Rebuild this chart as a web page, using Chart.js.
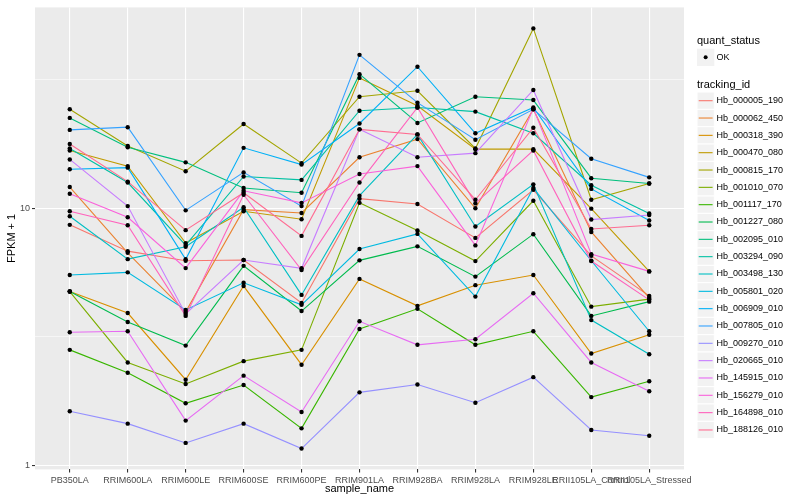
<!DOCTYPE html>
<html>
<head>
<meta charset="utf-8">
<script src="https://cdn.jsdelivr.net/npm/chart.js@4.4.1/dist/chart.umd.min.js"></script>
<style>
  html, body { margin: 0; padding: 0; background: #ffffff; }
  canvas { display: block; }
</style>
</head>
<body>
<canvas id="fpkm-chart" width="800" height="500"></canvas>
<script>
const samples = ['PB350LA', 'RRIM600LA', 'RRIM600LE', 'RRIM600SE', 'RRIM600PE', 'RRIM901LA',
                 'RRIM928BA', 'RRIM928LA', 'RRIM928LE', 'RRII105LA_Control', 'RRII105LA_Stressed'];

const trackingIds = ['Hb_000005_190', 'Hb_000062_450', 'Hb_000318_390', 'Hb_000470_080', 'Hb_000815_170',
                     'Hb_001010_070', 'Hb_001117_170', 'Hb_001227_080', 'Hb_002095_010', 'Hb_003294_090',
                     'Hb_003498_130', 'Hb_005801_020', 'Hb_006909_010', 'Hb_007805_010', 'Hb_009270_010',
                     'Hb_020665_010', 'Hb_145915_010', 'Hb_156279_010', 'Hb_164898_010', 'Hb_188126_010'];

const statusLabels = ['OK'];

// FPKM + 1, one value per sample
const fpkm_000005_190 = [8.62, 6.81, 6.25, 6.29, 4.28, 10.9, 10.4, 7.67, 11.8, 6.53, 4.56];
const fpkm_000062_450 = [12.1, 6.71, 3.95, 9.88, 9.59, 15.8, 18.6, 10.0, 24.3, 8.09, 4.48];
const fpkm_000318_390 = [4.74, 3.91, 2.15, 4.98, 2.46, 5.31, 4.17, 5.02, 5.50, 2.72, 3.22];
const fpkm_000470_080 = [16.8, 14.6, 7.32, 9.74, 9.07, 32.2, 25.1, 17.0, 17.0, 9.97, 5.68];
const fpkm_000815_170 = [24.3, 17.5, 13.95, 21.3, 15.0, 27.2, 28.7, 17.1, 50.2, 10.8, 12.5];
const fpkm_001010_070 = [4.74, 2.51, 2.07, 2.54, 2.81, 10.5, 8.20, 6.23, 10.7, 4.14, 4.43];
const fpkm_001117_170 = [2.81, 2.29, 1.74, 2.05, 1.39, 3.39, 4.06, 2.94, 3.32, 1.84, 2.12];
const fpkm_001227_080 = [4.74, 3.61, 2.92, 5.97, 3.98, 6.27, 7.11, 5.42, 7.93, 3.81, 4.33];
const fpkm_002095_010 = [22.5, 17.3, 15.1, 12.0, 11.5, 33.3, 21.5, 27.2, 26.4, 13.1, 12.5];
const fpkm_003294_090 = [17.1, 12.6, 7.19, 13.3, 12.9, 24.0, 24.7, 23.8, 19.6, 12.3, 9.54];
const fpkm_003498_130 = [9.31, 6.34, 7.08, 10.1, 4.60, 11.2, 19.4, 8.49, 12.4, 3.67, 2.70];
const fpkm_005801_020 = [5.50, 5.63, 4.02, 5.13, 4.21, 6.94, 7.95, 4.53, 12.0, 6.25, 3.32];
const fpkm_006909_010 = [14.2, 14.4, 6.33, 17.2, 14.8, 21.4, 35.6, 19.6, 24.7, 11.9, 8.96];
const fpkm_007805_010 = [20.2, 20.7, 9.82, 13.8, 10.2, 39.6, 25.8, 18.5, 24.3, 15.6, 13.2];
const fpkm_009270_010 = [1.62, 1.45, 1.22, 1.45, 1.16, 1.92, 2.06, 1.75, 2.20, 1.37, 1.30];
const fpkm_020665_010 = [15.5, 10.2, 3.88, 6.29, 5.84, 20.3, 15.8, 16.4, 28.9, 9.04, 9.42];
const fpkm_145915_010 = [3.29, 3.32, 1.49, 2.23, 1.61, 3.63, 2.94, 3.09, 4.67, 2.51, 1.94];
const fpkm_156279_010 = [11.4, 9.23, 5.85, 11.7, 10.5, 13.6, 14.6, 7.17, 24.5, 6.63, 5.68];
const fpkm_164898_010 = [9.74, 8.59, 3.81, 11.3, 5.75, 12.6, 24.7, 10.45, 16.8, 6.23, 4.40];
const fpkm_188126_010 = [17.8, 12.7, 8.22, 11.5, 7.81, 20.3, 19.4, 10.8, 20.6, 8.31, 8.59];

const seriesValues = [fpkm_000005_190, fpkm_000062_450, fpkm_000318_390, fpkm_000470_080, fpkm_000815_170,
                      fpkm_001010_070, fpkm_001117_170, fpkm_001227_080, fpkm_002095_010, fpkm_003294_090,
                      fpkm_003498_130, fpkm_005801_020, fpkm_006909_010, fpkm_007805_010, fpkm_009270_010,
                      fpkm_020665_010, fpkm_145915_010, fpkm_156279_010, fpkm_164898_010, fpkm_188126_010];

// y axis: labelled breaks and the minor lines between them
const yBreaks = [1, 10];
const yMinorBreaks = [Math.sqrt(10), Math.sqrt(1000)];

// ggplot hue palette for 20 groups
const palette = ['#F8766D', '#EA8331', '#D89000', '#C09B00', '#A3A500', '#7CAE00', '#39B600', '#00BB4E',
                 '#00BF7D', '#00C1A3', '#00BFC4', '#00BAE0', '#00B0F6', '#35A2FF', '#9590FF', '#C77CFF',
                 '#E76BF3', '#FA62DB', '#FF62BC', '#FF6C91'];

const fontFamily = '"Liberation Sans", Arial, Helvetica, sans-serif';
Chart.defaults.font.family = fontFamily;

const isMajor = (ctx) => ctx.tick && yBreaks.includes(ctx.tick.value);

// grey panel like ggplot
const panelBackground = {
    id: 'panelBackground',
    beforeDraw(chart) {
        const { ctx, chartArea } = chart;
        ctx.save();
        ctx.fillStyle = '#FFFFFF';
        ctx.fillRect(0, 0, chart.width, chart.height);
        ctx.fillStyle = '#EBEBEB';
        ctx.fillRect(chartArea.left, chartArea.top, chartArea.right - chartArea.left, chartArea.bottom - chartArea.top);
        ctx.restore();
    }
};

// two-part legend on the right
const legendPanel = {
    id: 'legendPanel',
    afterDraw(chart) {
        const ctx = chart.ctx;
        const x0 = 697;
        const keySize = 17.3;
        ctx.save();
        ctx.textAlign = 'left';
        ctx.textBaseline = 'middle';

        ctx.fillStyle = '#000000';
        ctx.font = '11px ' + fontFamily;
        ctx.fillText('quant_status', x0, 40.5);

        ctx.fillStyle = '#F2F2F2';
        ctx.fillRect(x0, 57.3 - keySize / 2, keySize, keySize);
        ctx.fillStyle = '#000000';
        ctx.beginPath();
        ctx.arc(x0 + keySize / 2, 57.3, 2, 0, Math.PI * 2);
        ctx.fill();
        ctx.font = '9px ' + fontFamily;
        ctx.fillText(statusLabels[0], 716.5, 57.3);

        ctx.font = '11px ' + fontFamily;
        ctx.fillText('tracking_id', x0, 84.5);

        trackingIds.forEach((id, i) => {
            const yc = 100.7 + 17.33 * i;
            ctx.fillStyle = '#F2F2F2';
            ctx.fillRect(x0, yc - keySize / 2, keySize, keySize);
            ctx.strokeStyle = '#FFFFFF';
            ctx.lineWidth = 1;
            ctx.strokeRect(x0, yc - keySize / 2, keySize, keySize);
            ctx.strokeStyle = palette[i];
            ctx.lineWidth = 1.1;
            ctx.beginPath();
            ctx.moveTo(x0 + 1.7, yc);
            ctx.lineTo(x0 + keySize - 1.7, yc);
            ctx.stroke();
            ctx.fillStyle = '#000000';
            ctx.font = '9px ' + fontFamily;
            ctx.fillText(id, 716.5, yc);
        });
        ctx.restore();
    }
};

const lineDatasets = seriesValues.map((vals, k) => ({
    label: trackingIds[k],
    data: vals.map((v, i) => ({ x: i, y: v })),
    borderColor: palette[k],
    borderWidth: 1.1,
    pointRadius: 0,
    fill: false,
    tension: 0,
    order: seriesValues.length - k,
}));

const pointDataset = {
    label: 'quant_status',
    data: seriesValues.flatMap((vals) => vals.map((v, i) => ({ x: i, y: v }))),
    showLine: false,
    pointRadius: 2.2,
    pointBackgroundColor: '#000000',
    pointBorderWidth: 0,
    order: -1,
};

new Chart(document.getElementById('fpkm-chart'), {
    type: 'line',
    data: { datasets: [...lineDatasets, pointDataset] },
    options: {
        responsive: false,
        animation: false,
        layout: { padding: { left: 0, right: 116, top: 5, bottom: 0 } },
        plugins: {
            legend: { display: false },
            tooltip: { enabled: false },
        },
        scales: {
            x: {
                type: 'linear',
                bounds: 'data',
                min: -0.6,
                max: samples.length - 0.4,
                afterBuildTicks: (scale) => { scale.ticks = samples.map((s, i) => ({ value: i })); },
                afterFit: (scale) => { scale.height = 30.6; },
                ticks: {
                    callback: (v) => samples[v],
                    autoSkip: false,
                    maxRotation: 0,
                    minRotation: 0,
                    padding: 2.5,
                    color: '#4D4D4D',
                    font: { size: 9 },
                },
                grid: { color: '#FFFFFF', lineWidth: 1.1, tickLength: 3, tickColor: '#333333', tickWidth: 1.1 },
                border: { display: false },
                title: {
                    display: true,
                    text: 'sample_name',
                    color: '#000000',
                    font: { size: 11 },
                    padding: { top: 0, bottom: 4 },
                },
            },
            y: {
                type: 'logarithmic',
                min: 0.962,
                max: 60.6,
                afterBuildTicks: (scale) => {
                    scale.ticks = [...yBreaks, ...yMinorBreaks].sort((a, b) => a - b).map((v) => ({ value: v }));
                },
                afterFit: (scale) => { scale.width = 35; },
                ticks: {
                    callback: (v) => (yBreaks.includes(v) ? String(v) : ''),
                    autoSkip: false,
                    padding: 2,
                    color: '#4D4D4D',
                    font: { size: 9 },
                },
                grid: {
                    color: '#FFFFFF',
                    lineWidth: (ctx) => (isMajor(ctx) ? 1.1 : 0.55),
                    tickLength: 3,
                    tickColor: (ctx) => (isMajor(ctx) ? '#333333' : 'rgba(0,0,0,0)'),
                    tickWidth: 1.1,
                },
                border: { display: false },
                title: {
                    display: true,
                    text: 'FPKM + 1',
                    color: '#000000',
                    font: { size: 11 },
                    padding: { top: 5, bottom: 0 },
                },
            },
        },
    },
    plugins: [panelBackground, legendPanel],
});
</script>
</body>
</html>
